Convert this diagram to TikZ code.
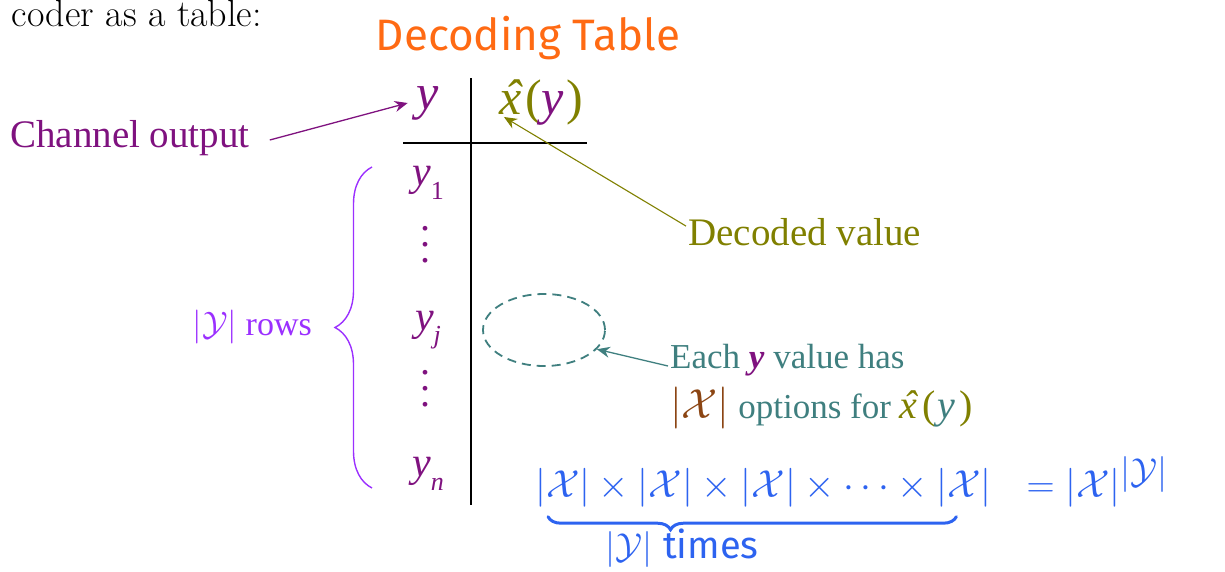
\RequirePackage{fix-cm}
\documentclass[tikz,border=0pt]{standalone}
\usepackage{fontspec}
\usetikzlibrary{decorations.pathreplacing,arrows.meta,shapes.geometric}
\newfontfamily\gar{Liberation Serif}
\newfontfamily\hand{Fira Sans}
\definecolor{cpurple}{HTML}{7F127F}
\definecolor{colive}{HTML}{808000}
\definecolor{cteal}{HTML}{3F7F7F}
\definecolor{cbrown}{HTML}{8B4513}
\definecolor{cviolet}{HTML}{9B30FF}
\definecolor{corange}{HTML}{FF6A13}
\definecolor{cblue}{HTML}{2D63F0}
\newcommand{\ysb}[1]{\textit{y}\raisebox{-0.32em}{\fontsize{26}{26}\selectfont #1}}
\newcommand{\xhat}{\textit{\rlap{\kern0.1em\char"02C6}x}}
\tikzset{
  lab/.style={font=\gar\fontsize{39}{44}\selectfont, inner sep=2},
  hdr/.style={font=\gar\fontsize{50}{54}\selectfont, inner sep=3},
  rowlab/.style={font=\gar\fontsize{42}{46}\selectfont, text=cpurple, inner sep=2},
  dotsn/.style={font=\gar\fontsize{40}{16}\selectfont, text=cpurple, align=center, inner sep=0},
  handw/.style={font=\fontsize{39}{44}\selectfont, text=cblue, inner sep=0},
  tline/.style={line width=2.2, black},
  arr/.style={line width=1.3, -{Stealth[length=13, width=11]}},
}
\begin{document}
\begin{tikzpicture}[x=1pt,y=-1pt]
\useasboundingbox (0,0) rectangle (1225,571);
\node[anchor=base east, font=\fontsize{38}{42}\selectfont, inner sep=0] (intro) at (262,26) {coder as a table:};
\node[font=\hand\fontsize{44}{48}\selectfont, text=corange, inner sep=0] (title) at (528,38) {Decoding Table};

% table
\coordinate (vt) at (471,78);
\coordinate (vb) at (471,505);
\coordinate (hl) at (403,143);
\coordinate (hr) at (587,143);
\draw[tline] (vt) -- (vb);
\draw[tline] (hl) -- (hr);

\node[hdr, text=cpurple] (hy) at (428,103) {\textit{y}};
\node[hdr, text=colive] (hx) at (541,103) {\xhat\kern0.08em(\textcolor{cpurple}{\textit{y}}\kern0.04em)};

\node[rowlab] (y1) at (428,183) {\ysb{1}};
\node[dotsn] (d1) at (425,245) {.\\.\\.};
\node[rowlab] (yj) at (428,330) {\ysb{\textit{j}}};
\node[dotsn] (d2) at (425,389) {.\\.\\.};
\node[rowlab] (yn) at (428,474) {\ysb{\textit{n}}};

% brace
\draw[cviolet, line width=1.4, decorate, decoration={brace, amplitude=37}] (372,488) -- (372,167);
\node[font=\gar\fontsize{34}{38}\selectfont, text=cviolet, inner sep=0, anchor=east] (rows) at (312,327) {$|\mathcal{Y}|$ rows};

% labels
\node[lab, text=cpurple, anchor=west] (co) at (8,138) {Channel output};
\draw[arr, cpurple] (co.east) ++(18,2) -- ([xshift=-6]hy.west);

\node[lab, text=colive, anchor=west] (dv) at (686,232) {Decoded value};
\draw[arr, colive, line width=1.1] ([yshift=-10]dv.north west) -- ([shift={(8,-12)}]hx.south west);

\node[draw=cteal, dashed, dash pattern=on 9 off 6, line width=1.8, ellipse, minimum width=122, minimum height=72] (el) at (544,330) {};
\node[font=\gar\fontsize{35}{40}\selectfont, text=cteal, anchor=west, inner sep=0] (e1) at (670,360) {Each \textcolor{cpurple}{\textbf{\textit{y}}} value has};
\node[font=\gar\fontsize{35}{40}\selectfont, text=cteal, anchor=west, inner sep=0] (e2) at (670,408) {{\fontsize{42}{44}\selectfont\textcolor{cbrown}{$|\mathcal{X}|$}} options for {\fontsize{40}{44}\selectfont\textcolor{colive}{\xhat\kern0.12em(}\kern0.05em\textit{y}\kern0.1em\textcolor{colive}{)}}};
\draw[arr, cteal, line width=1.3] ([xshift=-2,yshift=-6]e1.west) -- (el.-20);

% handwritten formula
\node[handw, anchor=west] (f1) at (535,488) {$|\mathcal{X}|\times|\mathcal{X}|\times|\mathcal{X}|\times\cdots\times|\mathcal{X}|$};
\node[handw, anchor=base west] (f2) at ([xshift=34]f1.base east) {$=|\mathcal{X}|^{\mbox{\fontsize{36}{36}\selectfont$|\mathcal{Y}|$}}$};
\draw[cblue, line width=3, line cap=round, decorate, decoration={brace, amplitude=13, mirror, aspect=0.3}] ([shift={(13,9)}]f1.south west) -- ([shift={(-36,9)}]f1.south east);
\node[font=\fontsize{36}{40}\selectfont, text=cblue, inner sep=0, anchor=west] (tm) at (605,548) {$|\mathcal{Y}|$ {\hand\fontsize{38}{40}\selectfont times}};
\end{tikzpicture}
\end{document}
